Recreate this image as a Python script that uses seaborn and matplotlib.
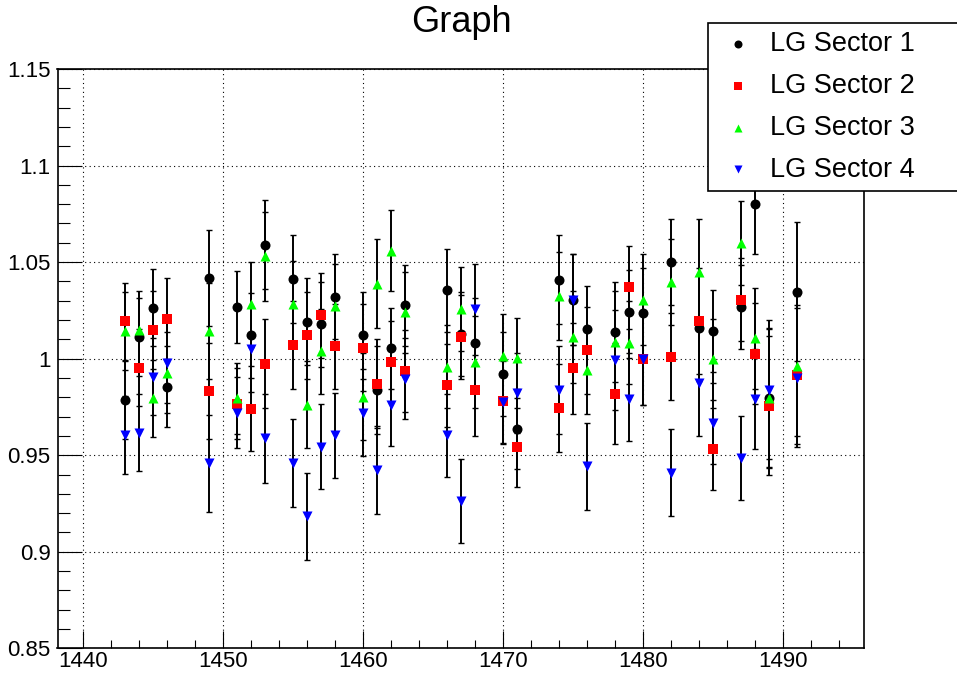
import numpy as np
import pandas as pd
import matplotlib
matplotlib.use("Agg")
import matplotlib.pyplot as plt
from matplotlib.ticker import MultipleLocator, FuncFormatter
import seaborn as sns

# ---------------- data ----------------
runs = [1443, 1444, 1445, 1446, 1449, 1451, 1452, 1453, 1455, 1456, 1457, 1458,
        1460, 1461, 1462, 1463, 1466, 1467, 1468, 1470, 1471, 1474, 1475, 1476,
        1478, 1479, 1480, 1482, 1484, 1485, 1487, 1488, 1489, 1491]

sector1 = [0.9786, 1.0112, 1.0263, 0.9855, 1.0417, 1.0267, 1.0120, 1.0590, 1.0413, 1.0191,
           1.0177, 1.0320, 1.0120, 0.9838, 1.0053, 1.0277, 1.0353, 1.0126, 1.0079, 0.9919,
           0.9638, 1.0408, 1.0306, 1.0151, 1.0139, 1.0242, 1.0237, 1.0500, 1.0157, 1.0143,
           1.0268, 1.0802, 0.9798, 1.0346]
sector2 = [1.0194, 0.9953, 1.0148, 1.0206, 0.9833, 0.9767, 0.9741, 0.9974, 1.0070, 1.0120,
           1.0224, 1.0065, 1.0057, 0.9870, 0.9983, 0.9936, 0.9862, 1.0113, 0.9838, 0.9781,
           0.9540, 0.9744, 0.9950, 1.0043, 0.9819, 1.0370, 0.9996, 1.0010, 1.0194, 0.9532,
           1.0306, 1.0026, 0.9755, 0.9916]
sector3 = [1.0143, 1.0148, 0.9795, 0.9928, 1.0143, 0.9795, 1.0281, 1.0530, 1.0281, 0.9762,
           1.0039, 1.0272, 0.9803, 1.0389, 1.0559, 1.0241, 0.9957, 1.0258, 0.9983, 1.0014,
           1.0002, 1.0324, 1.0112, 0.9941, 1.0088, 1.0083, 1.0306, 1.0396, 1.0447, 0.9996,
           1.0599, 1.0105, 0.9795, 0.9962]
sector4 = [0.9605, 0.9617, 0.9907, 0.9979, 0.9458, 0.9721, 1.0048, 0.9587, 0.9458, 0.9184,
           0.9545, 0.9604, 0.9721, 0.9423, 0.9759, 0.9896, 0.9604, 0.9264, 1.0255, 0.9773,
           0.9824, 0.9838, 1.0306, 0.9442, 0.9993, 0.9790, 0.9996, 0.9410, 0.9876, 0.9666,
           0.9487, 0.9790, 0.9838, 0.9902]
errors = [0.020, 0.020, 0.020, 0.021, 0.025, 0.0185, 0.022, 0.023, 0.0227, 0.0225,
          0.022, 0.022, 0.0224, 0.023, 0.021, 0.021, 0.0215, 0.0217, 0.0236, 0.0217,
          0.0207, 0.023, 0.0236, 0.0227, 0.026, 0.0215, 0.0235, 0.0224, 0.0275, 0.021,
          0.0217, 0.026, 0.036, 0.036]

series_names = ["LG Sector 1", "LG Sector 2", "LG Sector 3", "LG Sector 4"]
series_values = [sector1, sector2, sector3, sector4]
series_colors = ["#000000", "#ff0000", "#00ff00", "#0000ff"]
series_markers = ["o", "s", "^", "v"]

x_ticks = [1440, 1450, 1460, 1470, 1480, 1490]
y_ticks = [0.85, 0.9, 0.95, 1.0, 1.05, 1.1, 1.15]

# ---------------- style ----------------
sns.set_style("ticks")
plt.rcParams["font.family"] = ["Liberation Sans", "DejaVu Sans"]
plt.rcParams["text.color"] = "black"

W, H = 957, 681
fig = plt.figure(figsize=(W / 100, H / 100), dpi=100)
ax_l, ax_r, ax_t, ax_b = 57.5, 864.0, 69.0, 648.3
ax = fig.add_axes([ax_l / W, 1 - ax_b / H, (ax_r - ax_l) / W, (ax_b - ax_t) / H])

frames = []
for name, vals in zip(series_names, series_values):
    frames.append(pd.DataFrame({"run": runs, "value": vals, "err": errors, "series": name}))
df = pd.concat(frames, ignore_index=True)

for name, col, mk in zip(series_names, series_colors, series_markers):
    d = df[df["series"] == name]
    ax.errorbar(d["run"], d["value"], yerr=d["err"], fmt="none", ecolor="black",
                elinewidth=1.4, capsize=2.2, capthick=1.0, zorder=2)
    sns.scatterplot(data=d, x="run", y="value", color=col, marker=mk, s=52,
                    linewidth=0, edgecolor=col, ax=ax, label=name, zorder=3)

ax.set_xlim(1438.2, 1495.8)
ax.set_ylim(0.85, 1.15)
ax.set_xticks(x_ticks)
ax.set_yticks(y_ticks)
ax.xaxis.set_minor_locator(MultipleLocator(2))
ax.yaxis.set_minor_locator(MultipleLocator(0.01))
ax.yaxis.set_major_formatter(FuncFormatter(lambda v, p: f"{v:g}"))
ax.set_xlabel("")
ax.set_ylabel("")

ax.tick_params(axis="both", which="both", direction="in", top=False, right=False,
               colors="black", labelcolor="black", width=0.8, labelsize=16)
ax.tick_params(axis="y", which="major", length=17, pad=5)
ax.tick_params(axis="y", which="minor", length=8.6)
ax.tick_params(axis="x", which="major", length=12, pad=2)
ax.tick_params(axis="x", which="minor", length=6)

for sp in ax.spines.values():
    sp.set_visible(True)
    sp.set_color("black")
    sp.set_linewidth(1.2)

ax.grid(True, which="major", color="black", linestyle=(0, (1, 3)), linewidth=0.8)
ax.set_axisbelow(True)

fig.text(461 / W, 1 - 22 / H, "Graph", ha="center", va="center", fontsize=26,
         color="black")

leg_l, leg_t, leg_b = 708, 23.3, 189
leg = ax.legend(loc="upper left",
                bbox_to_anchor=(leg_l / W, 1 - leg_b / H, 320 / W, (leg_b - leg_t) / H),
                bbox_transform=fig.transFigure, mode="expand",
                fontsize=19.5, markerscale=0.8, frameon=True, fancybox=False,
                framealpha=1, edgecolor="black", borderaxespad=0, borderpad=0.3,
                labelspacing=0.58, handlelength=1.65, handletextpad=0.33)
leg.get_frame().set_linewidth(1.2)
for t in leg.get_texts():
    t.set_color("black")

fig.savefig("out.png", dpi=100)
